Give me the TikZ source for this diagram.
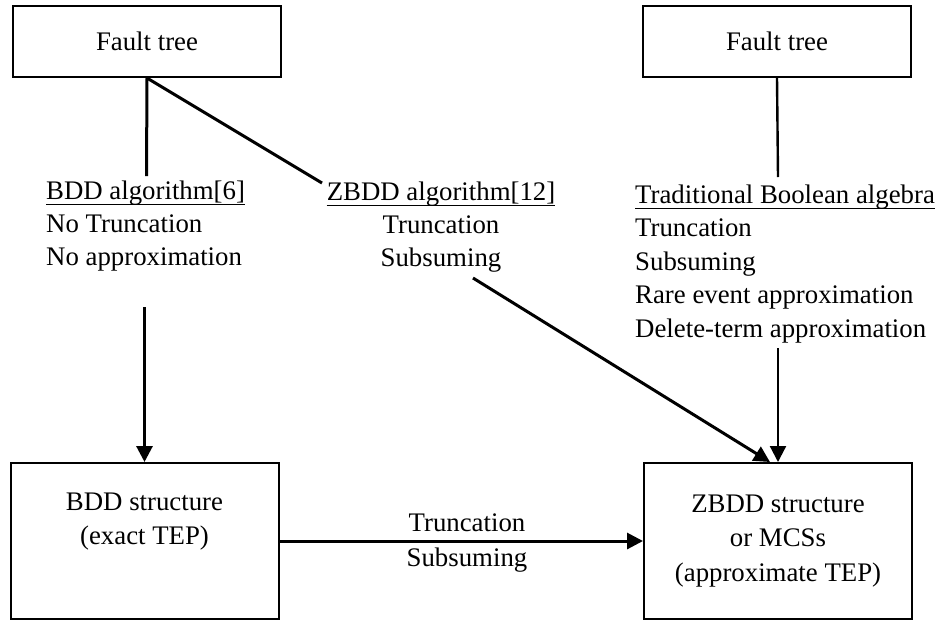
\documentclass[tikz,border=0pt]{standalone}
\usepackage{fontspec}
\setmainfont{Liberation Serif}
\usetikzlibrary{arrows.meta}
\begin{document}
\begin{tikzpicture}[x=1pt,y=-1pt,
  every node/.style={inner sep=0pt, font=\fontsize{26.8}{34.5}\selectfont},
  box/.style={draw, line width=2pt, minimum width=268pt, align=center},
  conn/.style={line width=3pt},
  arr/.style={line width=3pt, -{Triangle[length=16pt,width=16pt]}},
  uline/.style={line width=1.4pt}]
\useasboundingbox (0,0) rectangle (944,622);
% boxes
\node[box, minimum height=71pt] (ft1) at (147,41.5) {Fault tree};
\node[box, minimum height=71pt] (ft2) at (777,41.5) {Fault tree};
\node[box, minimum height=156pt] (bdd) at (144.5,541) {BDD structure\\(exact TEP)\\\strut};
\node[box, minimum height=156pt] (zbdd) at (778,541) {ZBDD structure\\or MCSs\\(approximate TEP)};
% left text
\node[anchor=base west] (tL1) at (46,199) {BDD algorithm[6]};
\node[anchor=base west] (tL2) at (46,232) {No Truncation};
\node[anchor=base west] (tL3) at (46,265) {No approximation};
% middle text
\node[anchor=base] (tM1) at (441,200) {ZBDD algorithm[12]};
\node[anchor=base] (tM2) at (441,233) {Truncation};
\node[anchor=base] (tM3) at (441,266) {Subsuming};
% right text
\node[anchor=base west] (tR1) at (635,203) {Traditional Boolean algebra};
\node[anchor=base west] (tR2) at (635,236.5) {Truncation};
\node[anchor=base west] (tR3) at (635,270) {Subsuming};
\node[anchor=base west] (tR4) at (635,303.5) {Rare event approximation};
\node[anchor=base west] (tR5) at (635,337) {Delete-term approximation};
% underlines
\foreach \n in {tL1,tM1,tR1}
  \draw[uline] ([yshift=-5.5pt]\n.base west) -- ([yshift=-5.5pt]\n.base east);
% horizontal labels
\node[anchor=base] (hT) at (467,531) {Truncation};
\node[anchor=base] (hS) at (467,566) {Subsuming};
% coordinates
\coordinate (cL) at (146.5,176);
\coordinate (cD) at (322,183);
\coordinate (cLs) at (144.5,307);
\coordinate (cDs) at (473,278);
\coordinate (cDe) at (770,462);
\coordinate (cR) at (778,177);
\coordinate (cRs) at (778,348);
% connectors
\draw[conn] (ft1.south) -- (cL);
\draw[conn] (ft1.south) -- (cD);
\draw[conn, line width=2.4pt] (ft2.south) -- (cR);
\draw[arr] (cLs) -- (bdd.north);
\draw[arr] (cDs) -- (cDe);
\draw[arr, line width=2.2pt] (cRs) -- (zbdd.north);
\draw[arr] (bdd.east) -- (zbdd.west);
\end{tikzpicture}
\end{document}
